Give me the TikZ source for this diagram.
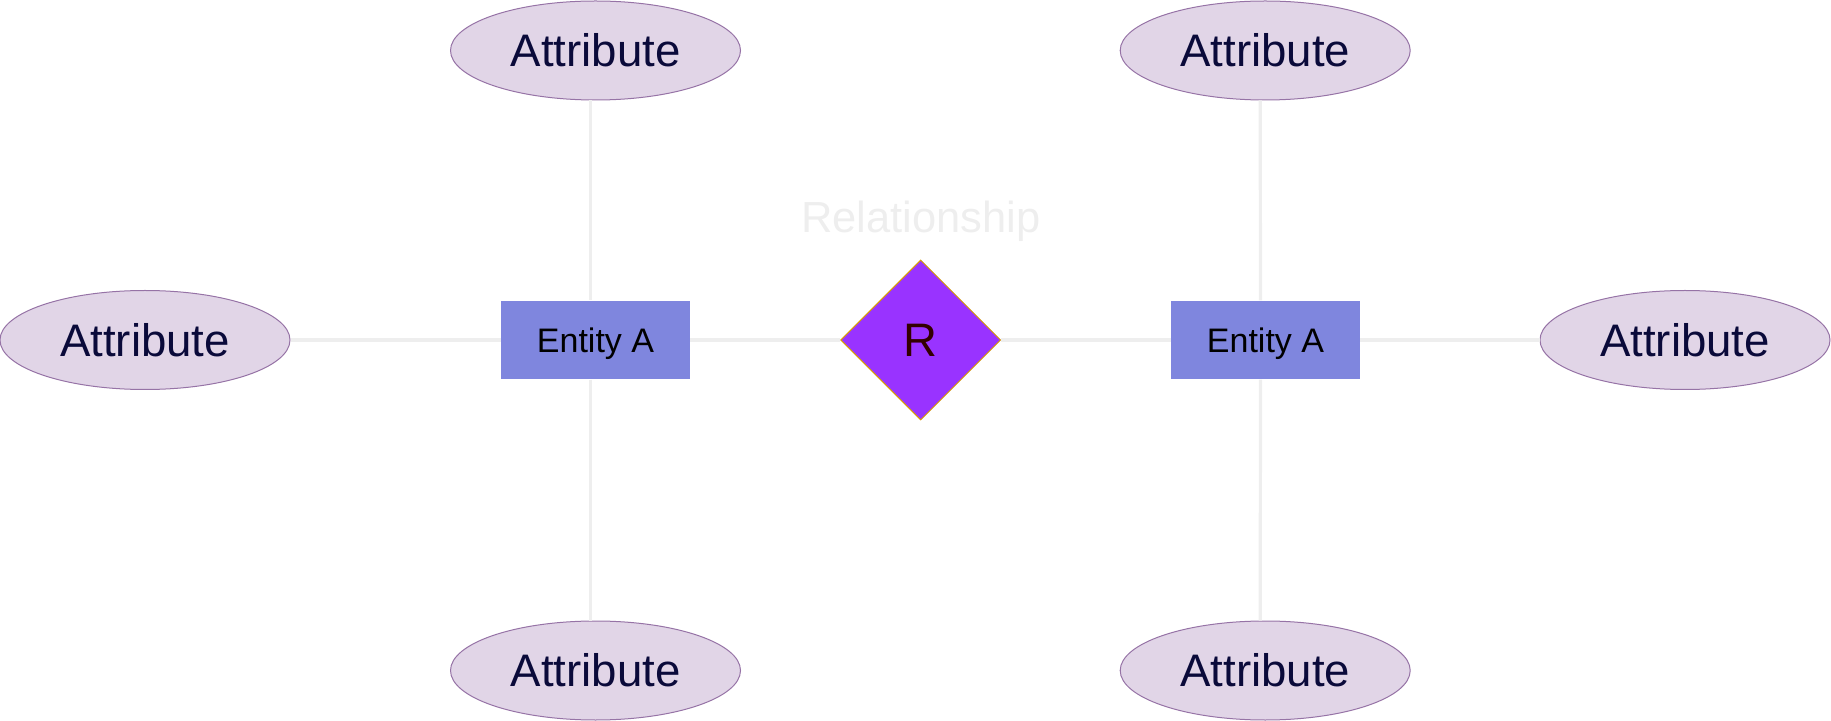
\documentclass[tikz,border=0pt]{standalone}
\usepackage{fontspec}
\setmainfont{Liberation Sans}
\usetikzlibrary{shapes.geometric}
\definecolor{attrfill}{HTML}{E1D5E7}
\definecolor{attrdraw}{HTML}{9673A6}
\definecolor{attrtext}{HTML}{0A0A3A}
\definecolor{entfill}{HTML}{7F86DE}
\definecolor{relfill}{HTML}{9933FF}
\definecolor{reldraw}{HTML}{D79B00}
\definecolor{reltext}{HTML}{330000}
\definecolor{linkcol}{HTML}{EEEEEE}
\tikzset{
  attr/.style={ellipse, fill=attrfill, draw=attrdraw, line width=0.5pt,
    minimum width=145pt, minimum height=49.5pt, inner sep=0pt,
    text=attrtext, font=\fontsize{22.8}{26}\selectfont,
    text height=16.3pt, text depth=0pt},
  entbox/.style={rectangle, fill=entfill, draw=none,
    minimum width=94.25pt, minimum height=39.25pt, inner sep=0pt,
    text=black, font=\fontsize{17}{20}\selectfont,
    text height=12.2pt, text depth=0pt},
  relbox/.style={diamond, fill=relfill, draw=reldraw, line width=0.5pt,
    minimum width=80pt, minimum height=80pt, inner sep=0pt,
    text=reltext, font=\fontsize{23.5}{27}\selectfont,
    text height=16.8pt, text depth=0pt},
  link/.style={draw=linkcol, line width=1.6pt},
  lbl/.style={inner sep=0pt, text=linkcol, font=\fontsize{21.75}{25}\selectfont,
    text height=15.6pt, text depth=0pt}
}
\begin{document}
\begin{tikzpicture}[x=0.5pt,y=-0.5pt]
\useasboundingbox (0,0) rectangle (1831,721);
% entities and relationship
\node[entbox] (e1) at (595.5,340) {Entity A};
\node[entbox] (e2) at (1265.5,340) {Entity A};
\node[relbox] (r) at (920.7,340) {R};
\node[lbl] (rl) at (921,216.5) {Relationship};
% attributes
\node[attr] (a1) at (595.5,50.5) {Attribute};
\node[attr] (a2) at (145,340) {Attribute};
\node[attr] (a3) at (595.5,670.5) {Attribute};
\node[attr] (a4) at (1265.2,50.5) {Attribute};
\node[attr] (a5) at (1685,340) {Attribute};
\node[attr] (a6) at (1265.2,670.5) {Attribute};
% connectors
\draw[link] ([xshift=-2.5pt]a1.south) -- ([xshift=-2.5pt]e1.north);
\draw[link] ([xshift=-2.5pt]e1.south) -- ([xshift=-2.5pt]a3.north);
\draw[link] (a2.east) -- (e1.west);
\draw[link] (e1.east) -- (r.west);
\draw[link] (r.east) -- (e2.west);
\draw[link] ([xshift=-2.5pt]a4.south) -- ([xshift=-2.5pt]e2.north);
\draw[link] ([xshift=-2.5pt]e2.south) -- ([xshift=-2.5pt]a6.north);
\draw[link] (e2.east) -- (a5.west);
\end{tikzpicture}
\end{document}
